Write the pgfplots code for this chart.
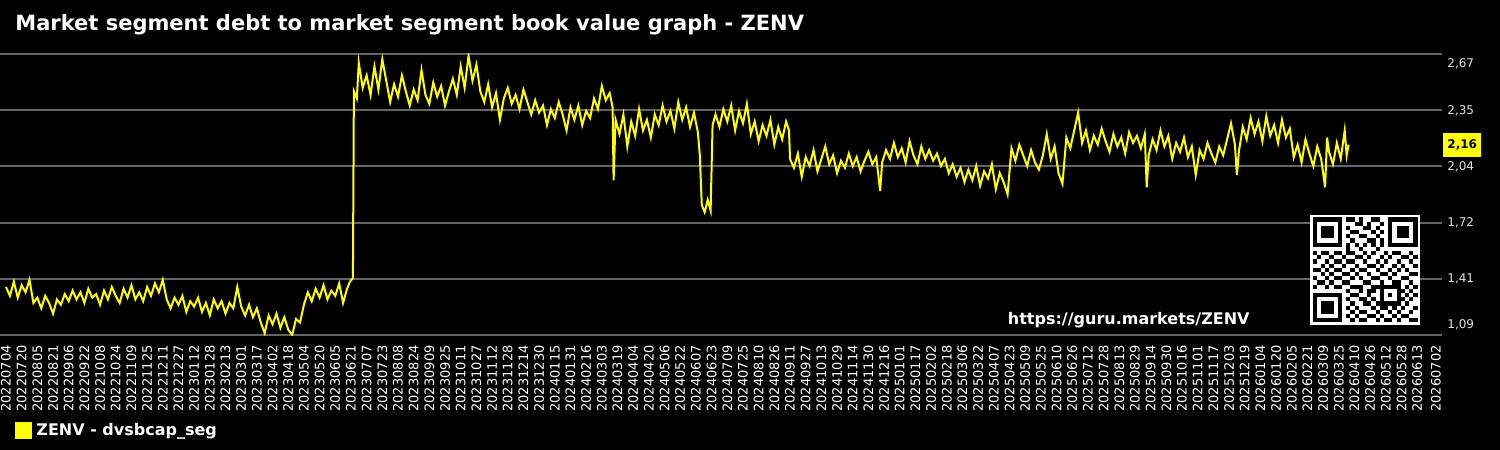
\documentclass[border=0pt]{standalone}
\usepackage{pgfplots}
\pgfplotsset{compat=1.18}
\usepackage{fontspec}
\setmainfont{DejaVu Sans}
\definecolor{gridgray}{RGB}{100,100,100}
\definecolor{ylab}{RGB}{225,225,225}
\definecolor{lineyellow}{RGB}{255,255,0}
\begin{document}
\begin{tikzpicture}
\fill[black] (0,0) rectangle (750pt,225pt);
\path[use as bounding box] (0,0) rectangle (750pt,225pt);
\node[anchor=west, inner sep=0pt, text=white, font=\bfseries\fontsize{10.5}{12}\selectfont] at (7.5pt,212.5pt) {Market segment debt to market segment book value graph - ZENV};
\begin{axis}[
  at={(0pt,57.5pt)}, anchor=south west,
  scale only axis, width=721pt, height=140.5pt,
  xmin=-6.1, xmax=1465.3, ymin=1.09, ymax=2.67,
  axis line style={draw=none},
  major tick length=0pt,
  xtick={0,16,...,1440,1459},
  xticklabels={20220704,20220720,20220805,20220821,20220906,20220922,20221008,20221024,20221109,20221125,20221211,20221227,
  20230112,20230128,20230213,20230301,20230317,20230402,20230418,20230504,20230520,20230605,20230621,20230707,20230723,20230808,20230824,20230909,20230925,20231011,20231027,20231112,20231128,20231214,20231230,
  20240115,20240131,20240216,20240303,20240319,20240404,20240420,20240506,20240522,20240607,20240623,20240709,20240725,20240810,20240826,20240911,20240927,20241013,20241029,20241114,20241130,20241216,
  20250101,20250117,20250202,20250218,20250306,20250322,20250407,20250423,20250509,20250525,20250610,20250626,20250712,20250728,20250813,20250829,20250914,20250930,20251016,20251101,20251117,20251203,20251219,
  20260104,20260120,20260205,20260221,20260309,20260325,20260410,20260426,20260512,20260528,20260613,20260702},
  xticklabel style={rotate=90, anchor=east, font=\fontsize{6.5}{7}\selectfont, text=white, inner sep=0pt, xshift=-5pt},
  ytick={1.09,1.406,1.722,2.038,2.354,2.67},
  yticklabels={},
  ymajorgrids,
  grid style={draw=gridgray, line width=1pt},
  legend style={at={(axis description cs:0.0104,-0.340)}, anchor=west, draw=none, fill=black, text=white,
    font=\bfseries\fontsize{8}{9}\selectfont, inner sep=0pt, row sep=0pt},
  legend image code/.code={\fill[lineyellow] (0pt,-3.75pt) rectangle (7.5pt,3.75pt);},
]
\addplot[lineyellow, line width=1pt] coordinates {
(0,1.36)(4,1.31)(8,1.39)(12,1.30)(16,1.37)(20,1.33)(24,1.40)(28,1.27)(32,1.30)(36,1.24)
(40,1.31)(44,1.27)(48,1.21)(52,1.29)(56,1.26)(60,1.32)(64,1.28)(68,1.34)(72,1.29)(76,1.33)
(80,1.27)(84,1.35)(88,1.30)(92,1.32)(96,1.26)(100,1.34)(104,1.29)(108,1.36)(112,1.31)(116,1.27)
(120,1.35)(124,1.30)(128,1.37)(132,1.29)(136,1.33)(140,1.28)(144,1.36)(148,1.31)(152,1.38)(156,1.33)
(160,1.40)(164,1.29)(168,1.24)(172,1.30)(176,1.26)(180,1.31)(184,1.22)(188,1.28)(192,1.25)(196,1.30)
(200,1.22)(204,1.27)(208,1.20)(212,1.29)(216,1.24)(220,1.28)(224,1.21)(228,1.27)(232,1.24)(236,1.36)
(240,1.25)(244,1.20)(248,1.26)(252,1.19)(256,1.24)(260,1.16)(264,1.10)(268,1.20)(272,1.15)(276,1.21)
(280,1.13)(284,1.19)(288,1.12)(292,1.09)(296,1.18)(300,1.16)(304,1.26)(308,1.33)(312,1.28)(316,1.35)
(320,1.30)(324,1.37)(328,1.29)(332,1.34)(336,1.31)(340,1.38)(344,1.27)(348,1.35)(351,1.39)(354,1.41)
(355,2.46)(358,2.42)(360,2.62)(364,2.48)(368,2.55)(372,2.44)(376,2.60)(380,2.47)(384,2.64)(388,2.52)
(392,2.40)(396,2.50)(400,2.43)(404,2.55)(408,2.46)(412,2.38)(416,2.47)(420,2.41)(424,2.58)(428,2.44)
(432,2.39)(436,2.51)(440,2.43)(444,2.49)(448,2.38)(452,2.46)(456,2.53)(460,2.44)(464,2.60)(468,2.48)
(472,2.66)(476,2.52)(480,2.61)(484,2.46)(488,2.40)(492,2.50)(496,2.37)(500,2.45)(504,2.30)(508,2.42)
(512,2.48)(516,2.39)(520,2.44)(524,2.36)(528,2.47)(532,2.40)(536,2.33)(540,2.41)(544,2.34)(548,2.38)
(552,2.27)(556,2.36)(560,2.31)(564,2.40)(568,2.33)(572,2.24)(576,2.37)(580,2.30)(584,2.38)(588,2.27)
(592,2.35)(596,2.31)(600,2.42)(604,2.36)(608,2.49)(612,2.41)(616,2.45)(619,2.37)(620,1.96)(622,2.30)
(626,2.22)(630,2.33)(634,2.15)(638,2.29)(642,2.21)(646,2.36)(650,2.24)(654,2.30)(658,2.20)(662,2.33)
(666,2.27)(670,2.38)(674,2.29)(678,2.35)(682,2.25)(686,2.40)(690,2.30)(694,2.37)(698,2.26)(702,2.34)
(706,2.23)(708,2.10)(710,1.82)(713,1.78)(716,1.85)(719,1.79)(721,2.27)(724,2.33)(728,2.26)(732,2.36)
(736,2.29)(740,2.38)(744,2.24)(748,2.35)(752,2.28)(756,2.39)(760,2.22)(764,2.29)(768,2.18)(772,2.27)
(776,2.21)(780,2.30)(784,2.16)(788,2.26)(792,2.19)(796,2.29)(799,2.24)(800,2.08)(804,2.03)(808,2.11)
(812,1.98)(816,2.09)(820,2.04)(824,2.13)(828,2.01)(832,2.08)(836,2.15)(840,2.05)(844,2.10)(848,2.00)
(852,2.07)(856,2.03)(860,2.11)(864,2.04)(868,2.09)(872,2.01)(876,2.07)(880,2.12)(884,2.05)(888,2.09)
(892,1.90)(894,2.06)(898,2.13)(902,2.08)(906,2.17)(910,2.09)(914,2.14)(918,2.06)(922,2.18)(926,2.10)
(930,2.05)(934,2.15)(938,2.08)(942,2.13)(946,2.07)(950,2.11)(954,2.04)(958,2.08)(962,2.00)(966,2.05)
(970,1.98)(974,2.03)(978,1.95)(982,2.02)(986,1.96)(990,2.04)(994,1.93)(998,2.01)(1002,1.97)(1006,2.05)
(1010,1.91)(1014,2.00)(1018,1.95)(1022,1.88)(1026,2.14)(1030,2.07)(1034,2.16)(1038,2.10)(1042,2.04)(1046,2.13)
(1050,2.06)(1054,2.02)(1058,2.10)(1062,2.22)(1066,2.08)(1070,2.15)(1074,2.00)(1078,1.94)(1082,2.20)(1086,2.14)
(1090,2.24)(1094,2.34)(1098,2.17)(1102,2.24)(1106,2.13)(1110,2.21)(1114,2.16)(1118,2.25)(1122,2.18)(1126,2.12)
(1130,2.22)(1134,2.15)(1138,2.20)(1142,2.11)(1146,2.23)(1150,2.17)(1154,2.21)(1158,2.14)(1162,2.22)(1164,1.92)
(1166,2.10)(1170,2.19)(1174,2.13)(1178,2.24)(1182,2.15)(1186,2.21)(1190,2.08)(1194,2.17)(1198,2.12)(1202,2.20)
(1206,2.09)(1210,2.15)(1214,1.99)(1218,2.13)(1222,2.08)(1226,2.17)(1230,2.11)(1234,2.06)(1238,2.15)(1242,2.10)
(1246,2.19)(1250,2.28)(1254,2.16)(1256,1.99)(1258,2.12)(1262,2.26)(1266,2.19)(1270,2.31)(1274,2.22)(1278,2.29)
(1282,2.18)(1286,2.32)(1290,2.21)(1294,2.27)(1298,2.17)(1302,2.30)(1306,2.20)(1310,2.25)(1314,2.09)(1318,2.16)
(1322,2.06)(1326,2.19)(1330,2.11)(1334,2.04)(1338,2.15)(1342,2.08)(1346,1.92)(1348,2.20)(1350,2.12)(1354,2.05)
(1358,2.17)(1362,2.08)(1366,2.24)(1368,2.10)(1370,2.16)
};
\addlegendentry{ZENV - dvsbcap\_seg}
\end{axis}
% y tick labels
\begin{scope}[every node/.style={anchor=west, inner sep=0pt, text=ylab, font=\fontsize{6}{7}\selectfont}]
\node at (723.5pt,193pt) {2,67};
\node at (723.5pt,169.5pt) {2,35};
\node at (723.5pt,141.5pt) {2,04};
\node at (723.5pt,113.5pt) {1,72};
\node at (723.5pt,85.5pt) {1,41};
\node at (723.5pt,62.5pt) {1,09};
\end{scope}
\node[anchor=west, fill=lineyellow, text=black, font=\bfseries\fontsize{6}{7}\selectfont, inner xsep=2pt, minimum height=10pt] at (721.5pt,152.5pt) {2,16};
% url
\node[anchor=east, inner sep=0pt, text=white, font=\bfseries\fontsize{8}{9}\selectfont] at (625pt,65pt) {https://guru.markets/ZENV};
% QR code
\fill[white] (655pt,62.5pt) rectangle (710pt,117.5pt);
\begin{scope}[shift={(656.25pt,116.25pt)}, x=2.1pt, y=-2.1pt]
\foreach \ox/\oy in {0/0,18/0,0/18}{
  \fill[black] (\ox,\oy) rectangle ++(7,7);
  \fill[white] (\ox+1,\oy+1) rectangle ++(5,5);
  \fill[black] (\ox+2,\oy+2) rectangle ++(3,3);
}
\fill[black] (16,16) rectangle ++(5,5);
\fill[white] (17,17) rectangle ++(3,3);
\fill[black] (18,18) rectangle ++(1,1);
\foreach \r/\cs in {0/{8,9,11,14,15},1/{10,11,13,16},2/{8,12,13,15},3/{9,10,14,16},4/{8,11,12,15},5/{9,13,14,16},6/{8,10,12,14,16},7/{8,11,15},
8/{0,2,3,5,6,8,9,12,14,17,19,20,23},9/{1,4,7,10,11,13,16,18,21,22,24},10/{0,3,5,6,8,9,12,15,17,20,23},11/{2,4,7,10,13,14,16,19,21,24},
12/{0,1,3,5,6,9,11,12,15,18,20,22},13/{2,4,7,8,10,13,16,17,19,23,24},14/{0,3,5,6,9,11,14,15,18,21,22},15/{1,2,4,7,8,12,13,16,19,20,23},
16/{0,3,5,6,9,10,11,14,15,22,24},17/{8,11,13,14,21,23},18/{9,10,13,22,24},19/{8,11,12,14,21,23},20/{9,12,13,15,22},
21/{8,10,14,16,17,19,21,24},22/{9,11,12,15,18,20,23},23/{8,10,13,14,16,19,21,22},24/{9,11,12,15,17,18,20,23,24}}{
  \foreach \c in \cs {\fill[black] (\c,\r) rectangle ++(1,1);}
}
\end{scope}
\end{tikzpicture}
\end{document}
